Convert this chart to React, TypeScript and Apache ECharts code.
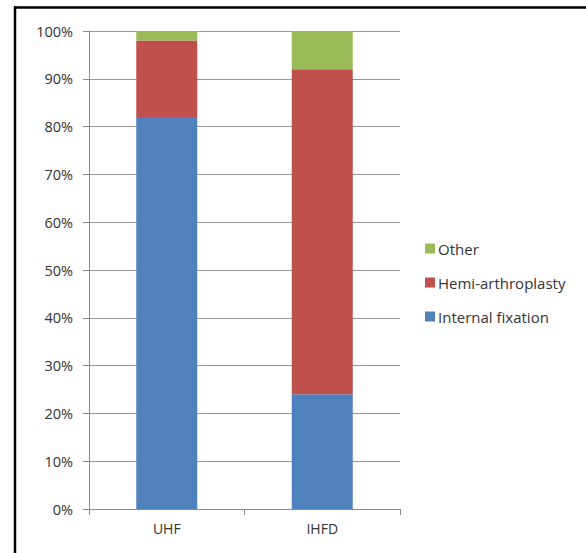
import React, { useEffect, useRef } from "react";
import * as echarts from "echarts";

const categories = ["UHF", "IHFD"];
const internalFixation = [82, 24];
const hemiArthroplasty = [16, 68];
const other = [2, 8];
const legendOrder = ["Other", "Hemi-arthroplasty", "Internal fixation"];

export default function App() {
  const ref = useRef<HTMLDivElement>(null);
  useEffect(() => {
    if (!ref.current) return;
    const chart = echarts.init(ref.current, null, { renderer: "svg" });
    const font = "'Open Sans', 'Noto Sans', sans-serif";
    const mk = (name: string, data: number[], color: string) => ({
      name,
      type: "bar",
      stack: "total",
      data,
      barWidth: 61,
      itemStyle: { color },
    });
    chart.setOption({
      animation: false,
      backgroundColor: "#ffffff",
      grid: { left: 89, right: 186, top: 31, bottom: 44, containLabel: false },
      legend: {
        orient: "vertical",
        left: 425,
        top: 241,
        padding: 0,
        itemWidth: 10,
        itemHeight: 10,
        itemGap: 19,
        icon: "rect",
        data: legendOrder,
        textStyle: { fontFamily: font, fontSize: 15, color: "#333", padding: [0, 0, 0, -2] },
      },
      xAxis: {
        type: "category",
        data: categories,
        axisLine: { lineStyle: { color: "#8c8c8c", width: 1 } },
        axisTick: { show: true, length: 6, lineStyle: { color: "#8c8c8c" } },
        axisLabel: { fontFamily: font, fontSize: 14, color: "#333", margin: 12 },
      },
      yAxis: {
        type: "value",
        min: 0,
        max: 100,
        interval: 10,
        axisLine: { show: true, lineStyle: { color: "#8c8c8c", width: 1 } },
        axisTick: { show: true, length: 6, lineStyle: { color: "#8c8c8c" } },
        axisLabel: {
          fontFamily: font,
          fontSize: 14.5,
          color: "#333",
          margin: 16,
          formatter: (v: number) => v + "%",
        },
        splitLine: { lineStyle: { color: "#999", width: 1 } },
      },
      series: [
        mk("Internal fixation", internalFixation, "#4f81bd"),
        mk("Hemi-arthroplasty", hemiArthroplasty, "#c0504d"),
        mk("Other", other, "#9bbb59"),
      ],
      graphic: [
        { type: "line", shape: { x1: 15, y1: 6.5, x2: 15, y2: 553 }, style: { stroke: "#000", lineWidth: 2.5 } },
        { type: "line", shape: { x1: 14, y1: 7.5, x2: 586, y2: 7.5 }, style: { stroke: "#000", lineWidth: 2.5 } },
      ],
    });
    return () => chart.dispose();
  }, []);
  return (
    <div
      ref={ref}
      style={{ position: "fixed", left: 0, top: 0, width: 586, height: 553 }}
    />
  );
}
